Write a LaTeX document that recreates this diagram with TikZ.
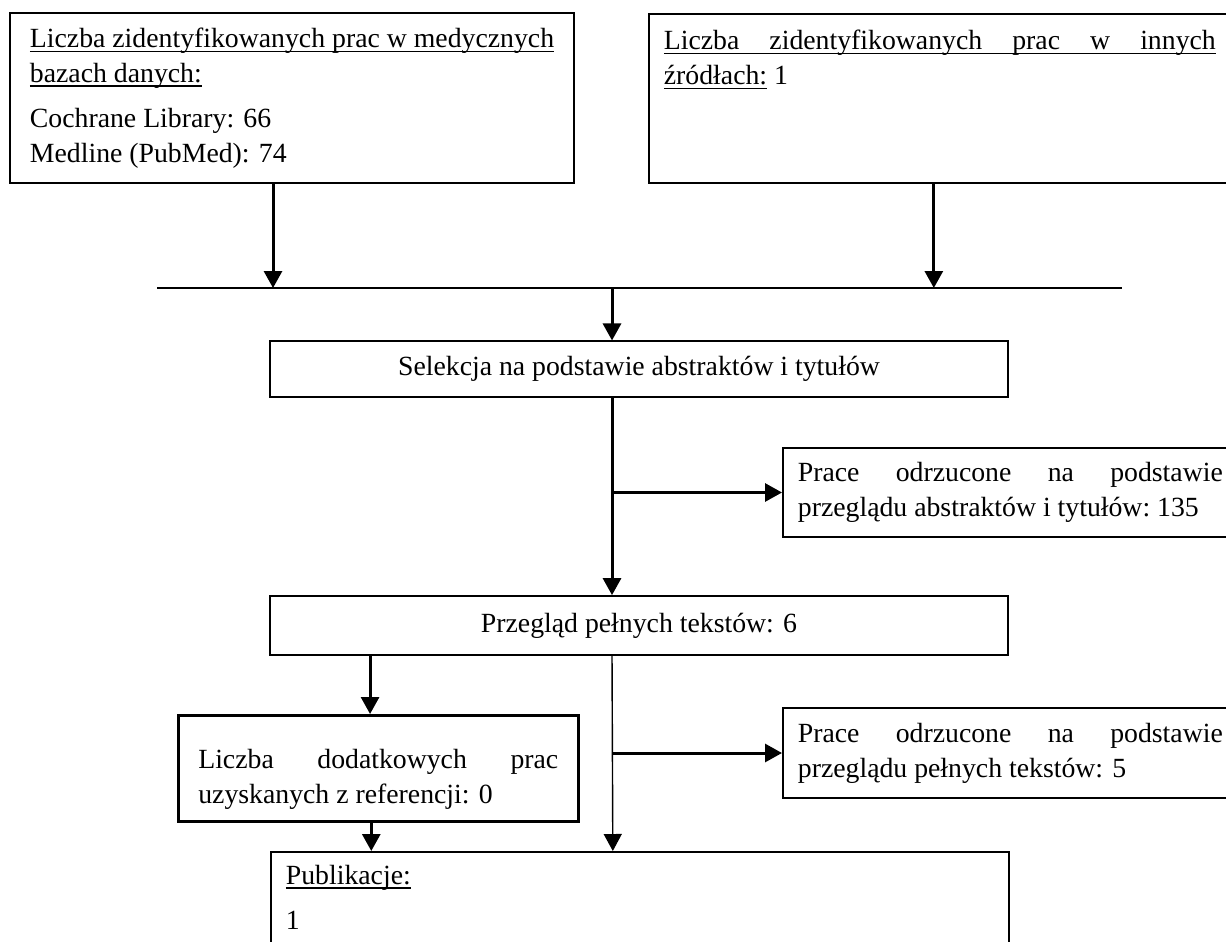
\documentclass[tikz,border=0pt]{standalone}
\usepackage{fontspec}
\setmainfont{Liberation Serif}
\usetikzlibrary{
	arrows.meta,
	positioning
}
\newsavebox\podkrbox
\newcommand\podkr[1]{\leavevmode\sbox\podkrbox{#1}\rlap{\rule[-2.6pt]{\wd\podkrbox}{0.8pt}}\usebox\podkrbox}

\begin{document}
\begin{tikzpicture}[
		x=0.02cm, y=-0.02cm,
		>={Triangle[width=0.36cm,length=0.34cm]},
		every node/.style={font=\fontsize{15.8}{19.9}\selectfont},
		blok/.style={
			draw,
			line width=1pt,
			inner sep=0.3cm
		},
		odrzut/.style={
			blok,
			anchor=west,
			text width=8.5cm,
			align=justify,
			inner ysep=0.2cm
		},
		strzalka/.style={->, line width=1.7pt},
		cienka/.style={line width=0.8pt}
		]
		\useasboundingbox (0,0) rectangle (1226,942);
		
		% Zrodla
		\node[blok, align=left, minimum width=11.28cm, minimum height=3.4cm] (bazy) at (292,98)
		{\podkr{Liczba zidentyfikowanych prac w medycznych}\\ \podkr{bazach danych:}\\[0.2cm]
			Cochrane Library: 66\\ Medline (PubMed): 74};
		\node[blok, anchor=north west, inner ysep=0.32cm] (inne) at (648,13)
		{\parbox[c][2.74cm][t]{11.04cm}{\podkr{\makebox[11.04cm][s]{Liczba zidentyfikowanych prac w innych}}\\
				\podkr{źródłach:} 1}};
		
		% Zbieranie
		\coordinate (lewy) at (157,288);
		\coordinate (prawy) at (1122,288);
		\draw[cienka] (lewy) -- (prawy);
		\draw[strzalka] ([xshift=-0.38cm]bazy.south) -- ([xshift=-0.38cm]bazy.south |- lewy);
		\draw[strzalka] ([xshift=-0.12cm]inne.south) -- ([xshift=-0.12cm]inne.south |- lewy);
		
		% Selekcja
		\node[blok, minimum width=14.76cm, minimum height=1.04cm] (selekcja) at (639,369)
		{Selekcja na podstawie abstraktów i tytułów};
		\node[odrzut, minimum height=1.78cm] (odrzucone1) at (782,492.5)
		{Prace odrzucone na podstawie\linebreak przeglądu abstraktów i~tytułów:~135};
		\node[blok, minimum width=14.76cm, minimum height=1.18cm] (przeglad) at (639,625.5)
		{Przegląd pełnych tekstów: 6};
		
		\draw[strzalka] ([xshift=-0.54cm]selekcja.north |- lewy) -- ([xshift=-0.54cm]selekcja.north);
		\draw[strzalka] ([xshift=-0.54cm]selekcja.south) -- ([xshift=-0.54cm]przeglad.north);
		\draw[strzalka] ([xshift=-0.54cm]selekcja.south |- odrzucone1.west) -- (odrzucone1.west);
		
		% Pelne teksty
		\node[blok, anchor=north west, line width=1.5pt, inner xsep=0.4cm, inner ysep=0pt] (dodatkowe) at (177,714)
		{\parbox[c][2.12cm][b]{7.2cm}{Liczba dodatkowych prac\linebreak
				uzyskanych z referencji: 0\par\vspace{0.24cm}}};
		\node[odrzut, minimum height=1.8cm] (odrzucone2) at (782,753)
		{Prace odrzucone na podstawie\linebreak przeglądu pełnych tekstów: 5};
		\node[blok, anchor=north west, inner ysep=0.26cm] (publikacje) at (270,851)
		{\parbox[c][1.66cm][t]{14.16cm}{\podkr{Publikacje:}\par\vspace{0.2cm}1}};
		
		\draw[strzalka] ([xshift=-5.38cm]przeglad.south) -- ([xshift=-5.38cm]przeglad.south |- dodatkowe.north);
		\draw[strzalka] ([xshift=-0.14cm]dodatkowe.south) -- ([xshift=-0.14cm]dodatkowe.south |- publikacje.north);
		\draw[cienka, ->] ([xshift=-0.54cm]przeglad.south) -- ([xshift=-0.54cm]publikacje.north);
		\draw[strzalka] ([xshift=-0.54cm]przeglad.south |- odrzucone2.west) -- (odrzucone2.west);
		
	\end{tikzpicture}
\end{document}
